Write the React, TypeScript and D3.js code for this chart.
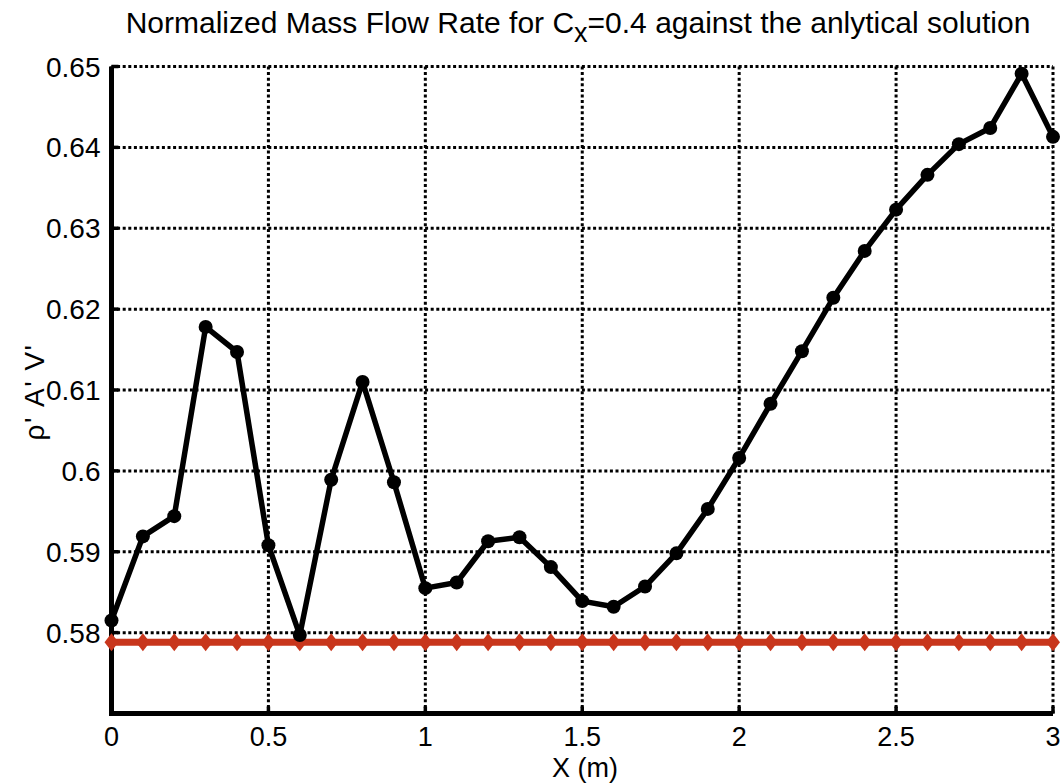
import React from "react";
import * as d3 from "d3";

const xs = [0, 0.1, 0.2, 0.3, 0.4, 0.5, 0.6, 0.7, 0.8, 0.9, 1.0, 1.1, 1.2, 1.3, 1.4, 1.5, 1.6, 1.7, 1.8, 1.9, 2.0, 2.1, 2.2, 2.3, 2.4, 2.5, 2.6, 2.7, 2.8, 2.9, 3.0];
const numerical = [0.5815, 0.5919, 0.5944, 0.6178, 0.6147, 0.5908, 0.5797, 0.5989, 0.611, 0.5986, 0.5855, 0.5862, 0.5913, 0.5918, 0.5881, 0.5839, 0.5832, 0.5857, 0.5898, 0.5953, 0.6016, 0.6083, 0.6148, 0.6214, 0.6272, 0.6323, 0.6366, 0.6404, 0.6424, 0.6491, 0.6413];
const analyticalValue = 0.5788;
const analytical = xs.map(() => analyticalValue);
const xTicks = [0, 0.5, 1, 1.5, 2, 2.5, 3];
const xTickLabels = ["0", "0.5", "1", "1.5", "2", "2.5", "3"];
const yTicks = [0.58, 0.59, 0.6, 0.61, 0.62, 0.63, 0.64, 0.65];
const yTickLabels = ["0.58", "0.59", "0.6", "0.61", "0.62", "0.63", "0.64", "0.65"];

const W = 1060;
const H = 783;
const left = 111.5;
const right = 1053;
const top = 66.5;
const bottom = 713.5;
const FONT = "'Liberation Sans', Arial, sans-serif";

export default function App() {
  const x = d3.scaleLinear().domain([0, 3]).range([left, right]);
  const y = d3.scaleLinear().domain([0.57, 0.65]).range([bottom, top]);
  const line = d3.line<number>().x((_, i) => x(xs[i])).y((d) => y(d));
  const diamond = (cx: number, cy: number) =>
    `M${cx},${cy - 9} L${cx + 7},${cy} L${cx},${cy + 9} L${cx - 7},${cy} Z`;

  return (
    <svg width={W} height={H} style={{ position: "absolute", left: 0, top: 0, background: "#fff" }}>
      <rect x={0} y={0} width={W} height={H} fill="#fff" />
      {/* grid */}
      {yTicks.map((t) => (
        <line key={"gy" + t} x1={left} x2={right} y1={y(t)} y2={y(t)} stroke="#000" strokeWidth={3} strokeDasharray="3,2.6" />
      ))}
      {xTicks.map((t) => (
        <line key={"gx" + t} x1={x(t)} x2={x(t)} y1={top} y2={bottom} stroke="#000" strokeWidth={3} strokeDasharray="3,2.6" />
      ))}
      {/* tick marks */}
      {xTicks.map((t) => (
        <line key={"tx" + t} x1={x(t)} x2={x(t)} y1={bottom} y2={bottom - 7} stroke="#000" strokeWidth={3.5} />
      ))}
      {yTicks.map((t) => (
        <line key={"ty" + t} x1={left} x2={left + 7} y1={y(t)} y2={y(t)} stroke="#000" strokeWidth={3.5} />
      ))}
      {/* axes */}
      <line x1={left} x2={left} y1={top} y2={bottom + 2.5} stroke="#000" strokeWidth={5} />
      <line x1={left - 2.5} x2={right} y1={bottom} y2={bottom} stroke="#000" strokeWidth={5} />
      {/* analytical */}
      <path d={line(analytical) || ""} fill="none" stroke="#c8361c" strokeWidth={7} />
      {analytical.map((v, i) => (
        <path key={"d" + i} d={diamond(x(xs[i]), y(v))} fill="#c8361c" />
      ))}
      {/* numerical */}
      <path d={line(numerical) || ""} fill="none" stroke="#000" strokeWidth={5.5} strokeLinejoin="round" />
      {numerical.map((v, i) => (
        <circle key={"c" + i} cx={x(xs[i])} cy={y(v)} r={7} fill="#000" />
      ))}
      {/* tick labels */}
      {yTicks.map((t, i) => (
        <text key={"yl" + t} x={left - 11} y={y(t)} dy="0.36em" textAnchor="end" fontFamily={FONT} fontSize={28} fill="#000">
          {yTickLabels[i]}
        </text>
      ))}
      {xTicks.map((t, i) => (
        <text key={"xl" + t} x={x(t)} y={746} textAnchor="middle" fontFamily={FONT} fontSize={27} fill="#000">
          {xTickLabels[i]}
        </text>
      ))}
      {/* axis labels */}
      <text x={585} y={777} textAnchor="middle" fontFamily={FONT} fontSize={27} fill="#000">X (m)</text>
      <text transform="translate(44,392) rotate(-90)" textAnchor="middle" fontFamily={FONT} fontSize={28} letterSpacing={1.5} fill="#000">ρ' A' V'</text>
      {/* title */}
      <text x={578} y={33} textAnchor="middle" fontFamily={FONT} fontSize={30} fill="#000">
        Normalized Mass Flow Rate for C<tspan dy={9} fontSize={27}>x</tspan><tspan dy={-9}>=0.4 against the anlytical solution</tspan>
      </text>
    </svg>
  );
}
